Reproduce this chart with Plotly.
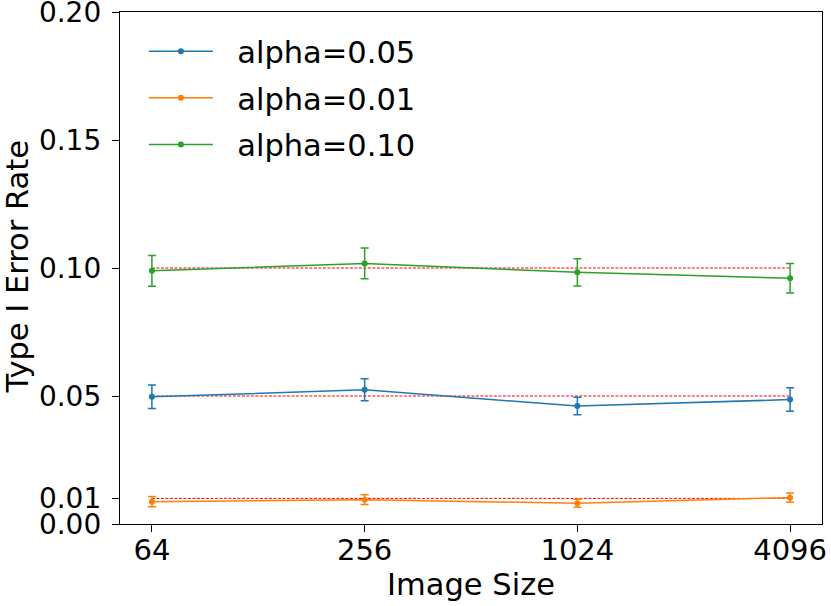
import plotly.graph_objects as go
import math

# image sizes on the x axis
image_sizes = [64, 256, 1024, 4096]

# Type I error rate per alpha, with error bar half-widths
alpha_labels = ["alpha=0.05", "alpha=0.01", "alpha=0.10"]
alpha_levels = [0.05, 0.01, 0.10]
rate_005 = [0.0497, 0.0524, 0.0461, 0.0486]
err_005 = [0.0046, 0.0043, 0.0034, 0.0046]
rate_001 = [0.0087, 0.0095, 0.0081, 0.0103]
err_001 = [0.0020, 0.0019, 0.0016, 0.0018]
rate_010 = [0.0989, 0.1018, 0.0983, 0.0960]
err_010 = [0.0060, 0.0060, 0.0053, 0.0058]

y_ticks = [0.00, 0.01, 0.05, 0.10, 0.15, 0.20]
colors = ["#1f77b4", "#ff7f0e", "#2ca02c"]

fig = go.Figure()

# nominal alpha reference lines (red dashed)
for a in alpha_levels:
    fig.add_trace(go.Scatter(
        x=[image_sizes[0], image_sizes[-1]], y=[a, a], mode="lines",
        line=dict(color="red", width=1, dash="3px,1.5px"),
        showlegend=False, hoverinfo="skip"))

for name, rate, err, c in zip(alpha_labels, [rate_005, rate_001, rate_010],
                              [err_005, err_001, err_010], colors):
    fig.add_trace(go.Scatter(
        x=image_sizes, y=rate, name="\u00a0\u00a0" + name, legendgroup=name,
        mode="lines+markers",
        line=dict(color=c, width=1.5),
        marker=dict(color=c, size=6),
        error_y=dict(type="data", array=err, color=c, thickness=1.5, width=4)))

lo = math.log10(2 ** 5.7)
hi = math.log10(2 ** 12.3)

fig.update_layout(
    width=831, height=606,
    margin=dict(l=120, r=9, t=12, b=82),
    plot_bgcolor="white", paper_bgcolor="white",
    font=dict(family="DejaVu Sans", size=28, color="black"),
    legend=dict(x=0.034, y=0.975, xanchor="left", yanchor="top",
                bgcolor="rgba(255,255,255,0)", font=dict(size=30.5),
                itemwidth=64, tracegroupgap=4),
    xaxis=dict(type="log", range=[lo, hi], tickvals=image_sizes,
               ticktext=[str(v) for v in image_sizes],
               automargin=False, tickfont=dict(size=29),
               ticklabeloverflow="allow",
               showgrid=False, zeroline=False, showline=True, mirror=True,
               linecolor="black", linewidth=1.3, ticks="outside", ticklen=7,
               tickcolor="black", ticklabelstandoff=-7,
               title=dict(text="Image Size", font=dict(size=30.5), standoff=4)),
    yaxis=dict(range=[0, 0.20001], tickvals=y_ticks,
               ticktext=["%.2f" % v for v in y_ticks],
               automargin=False, ticklabeloverflow="allow",
               showgrid=False, zeroline=False, showline=True, mirror=True,
               linecolor="black", linewidth=1.3, ticks="outside", ticklen=7,
               tickcolor="black", ticklabelstandoff=5),
)

# y axis title placed as an annotation so it can sit near the page edge
fig.add_annotation(text="Type I Error Rate", xref="paper", yref="paper",
                   x=-0.1467, y=0.501, textangle=-90, showarrow=False,
                   xanchor="center", yanchor="middle", font=dict(size=30.5))

# drop the default 8px body margin so the figure fills the window
fig.write_html("out.html", config={"displayModeBar": False},
               post_script="document.body.style.margin='0';")
